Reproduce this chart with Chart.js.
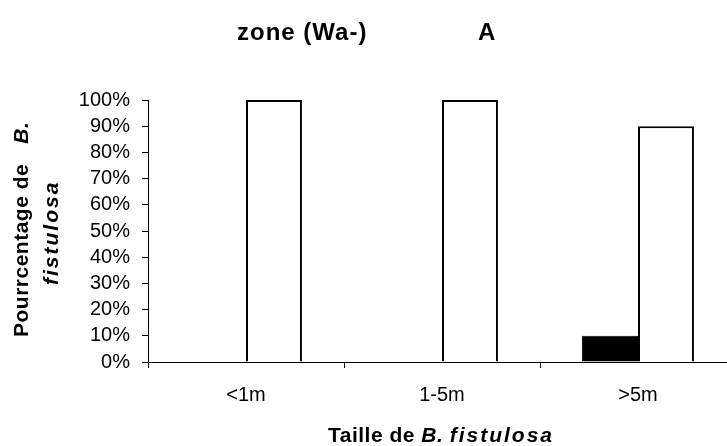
<!DOCTYPE html>
<html>
<head>
<meta charset="utf-8">
<script src="https://cdn.jsdelivr.net/npm/chart.js@4"></script>
<style>
  html, body { margin: 0; padding: 0; background: #fff; }
  #wrap { width: 727px; height: 446px; overflow: hidden; }
  #chart { display: block; }
</style>
</head>
<body>
<div id="wrap"><canvas id="chart" width="745" height="446"></canvas></div>
<script>
/* ─── Data ───────────────────────────────────────────────────────────────── */
const categories  = ['<1m', '1-5m', '>5m'];
const blackValues = [0, 0, 10];
const whiteValues = [100, 100, 90];

const FONT = "'Liberation Sans', Arial, sans-serif";

/* ─── Titles drawn by hand (mixed bold / bold italic) ───────────────────── */
const titlesPlugin = {
  id: 'titles',
  afterDraw(chart) {
    const ctx = chart.ctx;
    ctx.save();
    ctx.fillStyle = '#000';
    ctx.textBaseline = 'alphabetic';
    ctx.textAlign = 'left';

    // main title
    ctx.font = `bold 24px ${FONT}`;
    ctx.letterSpacing = '1px';
    ctx.fillText('zone (Wa-)', 237, 40);
    ctx.fillText('A', 478, 40);

    // x title
    ctx.letterSpacing = '0.5px';
    ctx.font = `bold 21px ${FONT}`;
    let x = 328;
    ctx.fillText('Taille de ', x, 442);
    x += ctx.measureText('Taille de ').width;
    ctx.font = `italic bold 21px ${FONT}`;
    ctx.fillText('B. ', x, 442);
    x += ctx.measureText('B. ').width;
    ctx.letterSpacing = '2px';
    ctx.fillText('fistulosa', x, 442);

    // y title, two rotated lines
    ctx.save();
    ctx.translate(28, 337);
    ctx.rotate(-Math.PI / 2);
    ctx.letterSpacing = '0.5px';
    ctx.font = `bold 21px ${FONT}`;
    ctx.fillText('Pourrcentage de', 0, 0);
    const w1 = ctx.measureText('Pourrcentage de').width;
    ctx.font = `italic bold 21px ${FONT}`;
    ctx.fillText('B.', w1 + 20, 0);
    ctx.restore();

    ctx.save();
    ctx.translate(58, 285);
    ctx.rotate(-Math.PI / 2);
    ctx.letterSpacing = '2px';
    ctx.font = `italic bold 21px ${FONT}`;
    ctx.fillText('fistulosa', 0, 0);
    ctx.restore();

    ctx.restore();
  }
};

/* ─── Chart ──────────────────────────────────────────────────────────────── */
new Chart(document.getElementById('chart'), {
  type: 'bar',
  data: {
    labels: categories,
    datasets: [
      {
        label: 'black',
        data: blackValues,
        backgroundColor: '#000',
        borderColor: '#000',
        borderWidth: 1
      },
      {
        label: 'white',
        data: whiteValues,
        backgroundColor: '#fff',
        borderColor: '#000',
        borderWidth: 2
      }
    ]
  },
  options: {
    responsive: false,
    animation: false,
    events: [],
    categoryPercentage: 0.571,
    barPercentage: 1,
    layout: { padding: { top: 100, right: 9, left: 0, bottom: 0 } },
    plugins: {
      legend: { display: false },
      title: { display: false },
      tooltip: { enabled: false }
    },
    scales: {
      x: {
        afterFit: s => { s.height = 84; },
        grid: {
          display: true,
          offset: true,
          drawOnChartArea: false,
          tickLength: 6,
          color: '#000'
        },
        border: { display: true, color: '#000', width: 1 },
        ticks: {
          color: '#000',
          padding: 15,
          font: { family: FONT, size: 20 }
        }
      },
      y: {
        min: 0,
        max: 100,
        afterFit: s => { s.width = 148; },
        grid: {
          display: true,
          drawOnChartArea: false,
          tickLength: 6,
          color: '#000'
        },
        border: { display: true, color: '#000', width: 1 },
        ticks: {
          stepSize: 10,
          autoSkip: false,
          color: '#000',
          padding: 12,
          font: { family: FONT, size: 20 },
          callback: v => `${v}%`
        }
      }
    }
  },
  plugins: [titlesPlugin]
});
</script>
</body>
</html>
